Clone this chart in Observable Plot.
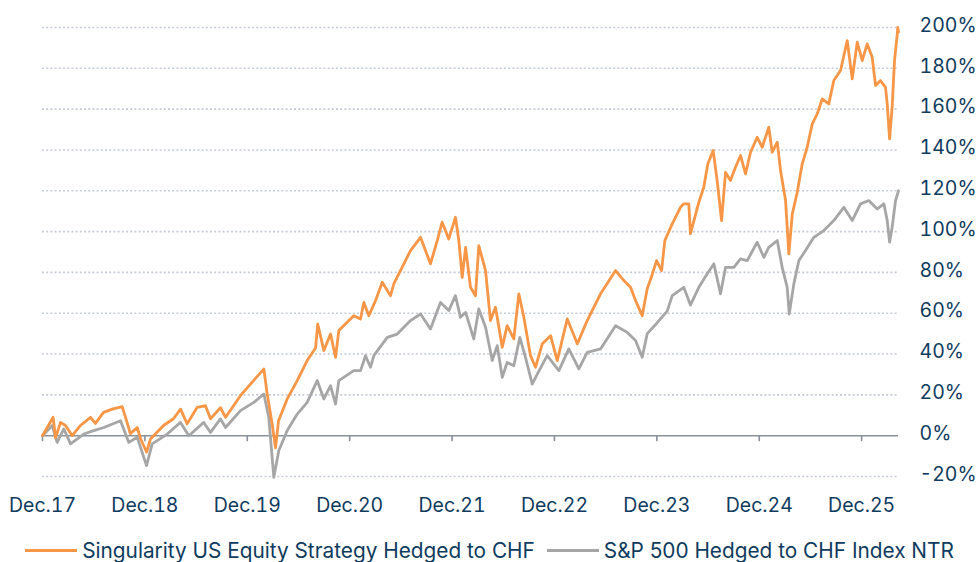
<!DOCTYPE html>
<html>
<head>
<meta charset="utf-8">
<script src="https://cdn.jsdelivr.net/npm/d3@7"></script>
<script src="https://cdn.jsdelivr.net/npm/@observablehq/plot@0.6"></script>
<style>
  html, body { margin: 0; padding: 0; background: #ffffff; }
  #wrap { position: relative; width: 979px; height: 562px; overflow: hidden; font-family: Inter, "Noto Sans", sans-serif; }
  #legend { position: absolute; left: 0; top: 541px; width: 979px; display: flex; justify-content: center; align-items: center; font-size: 20.8px; line-height: 20px; color: #0f3b5e; white-space: nowrap; }
  .item { display: flex; align-items: center; margin: 0 6px; }
  .sw { display: inline-block; width: 52px; height: 0; border-top: 3px solid; margin-right: 5px; position: relative; top: -1px; }
</style>
</head>
<body>
<div id="wrap">
  <div id="chart"></div>
  <div id="legend"></div>
</div>
<script>
// Series names
const seriesNames = ["Singularity US Equity Strategy Hedged to CHF", "S&P 500 Hedged to CHF Index NTR"];
const seriesColors = ["#f79646", "#a6a6a6"];

// Decimal-year positions (2018.0 = end of Dec 2017) and cumulative performance (%)
const stratT = [2018.000,2018.104,2018.127,2018.176,2018.225,2018.290,2018.371,2018.469,2018.517,2018.596,2018.681,2018.778,2018.811,2018.858,2018.925,2018.958,2019.016,2019.055,2019.182,2019.279,2019.348,2019.413,2019.511,2019.592,2019.641,2019.738,2019.788,2019.933,2020.061,2020.162,2020.194,2020.243,2020.276,2020.305,2020.390,2020.488,2020.585,2020.667,2020.688,2020.748,2020.813,2020.862,2020.894,2021.040,2021.106,2021.138,2021.187,2021.253,2021.318,2021.399,2021.431,2021.529,2021.594,2021.692,2021.789,2021.855,2021.903,2021.968,2022.033,2022.066,2022.099,2022.132,2022.180,2022.229,2022.261,2022.327,2022.375,2022.424,2022.490,2022.538,2022.603,2022.652,2022.701,2022.766,2022.815,2022.881,2022.962,2023.027,2023.125,2023.223,2023.320,2023.450,2023.597,2023.678,2023.743,2023.792,2023.857,2023.906,2023.955,2023.997,2024.046,2024.078,2024.150,2024.231,2024.263,2024.312,2024.328,2024.410,2024.458,2024.498,2024.550,2024.589,2024.632,2024.671,2024.719,2024.768,2024.817,2024.866,2024.915,2024.980,2025.029,2025.093,2025.127,2025.176,2025.208,2025.257,2025.289,2025.323,2025.371,2025.420,2025.468,2025.518,2025.566,2025.615,2025.679,2025.728,2025.794,2025.859,2025.908,2025.957,2026.006,2026.054,2026.103,2026.136,2026.184,2026.233,2026.250,2026.273,2026.298,2026.321,2026.348,2026.353,2026.360];
const stratV = [0,9,-1,6.5,5,0,5,9,6,11.4,13,14.2,9,1,4,-1.5,-8,-1.6,5,8.3,13,5.8,13.9,14.7,8.3,13.7,9,19.6,27,32.7,20.6,5.7,-6,7.3,18,27,36.8,43,54.7,41.7,49.8,38.4,51.5,58.8,57.2,65.3,58.8,66.2,75.2,68.6,74.4,84.2,90.7,97.2,84.2,95.6,104.6,96.4,107,95.6,77.6,92.3,72.7,68.6,93.1,80.9,56.4,62.9,43.3,53.9,47.4,69.5,58,39.2,33.5,45,49,36.8,57.2,45,56.4,69.5,80.9,76,72.7,66.2,58.8,72,79,85.8,80.9,95.6,103.8,111.9,113.6,113.6,98.9,114.4,121.7,133.2,139.7,125,105.4,129,125,131.5,137.3,128.3,138.9,146.2,141.3,151.1,138.9,143.8,129.9,115.2,89.1,108.7,119.3,133.2,141.3,152.8,157.7,165,162.6,174,178.9,193.6,174.8,192.8,183.8,192,185.4,171.6,174,170.7,162.6,145.4,161,183.8,196.9,200,197.7];

const indexT = [2018.000,2018.095,2018.143,2018.208,2018.274,2018.403,2018.501,2018.599,2018.762,2018.843,2018.925,2019.016,2019.071,2019.218,2019.348,2019.429,2019.575,2019.641,2019.738,2019.788,2019.933,2020.064,2020.162,2020.210,2020.259,2020.308,2020.390,2020.488,2020.585,2020.683,2020.748,2020.813,2020.862,2020.894,2021.040,2021.106,2021.155,2021.203,2021.236,2021.367,2021.464,2021.594,2021.692,2021.789,2021.887,2021.968,2022.033,2022.082,2022.132,2022.212,2022.261,2022.327,2022.392,2022.441,2022.490,2022.538,2022.603,2022.662,2022.717,2022.783,2022.832,2022.929,2023.043,2023.140,2023.238,2023.320,2023.450,2023.597,2023.711,2023.792,2023.857,2023.906,2023.997,2024.101,2024.150,2024.263,2024.328,2024.410,2024.492,2024.557,2024.622,2024.671,2024.752,2024.817,2024.883,2024.980,2025.045,2025.093,2025.176,2025.224,2025.273,2025.293,2025.338,2025.387,2025.452,2025.533,2025.631,2025.728,2025.826,2025.908,2025.989,2026.070,2026.152,2026.217,2026.250,2026.273,2026.298,2026.331,2026.360];
const indexV = [0,5,-3.3,3.3,-4,0.8,2.5,4,7.3,-3.3,-0.8,-14.7,-4,0.8,6.5,0,6.5,1.6,8.2,4,12.3,16.3,20.4,9,-20.4,-7.3,2.5,10.6,16.3,27,18,24.5,15.5,27,31.9,31.9,39.2,33.5,39.2,48.2,49.8,56.4,59.6,52.3,65.3,61.3,68.6,58,60.4,47.4,62.1,53.1,36.8,44.1,28.6,35.9,34.3,48.2,38.4,25.3,30.2,39.2,31.9,42.5,32.7,40.8,42.5,53.9,50.6,46.6,38.4,50,55,61,68.6,72.7,64,72.7,79.3,84.2,69.5,82.5,82.5,86.6,85.8,94.8,87.4,92.3,95.6,82.5,72.7,59.6,74.4,85.8,90.7,97.2,100.5,105.4,111.9,105.4,113.6,115.2,111.1,113.6,105.4,94.8,102.1,115.2,120];

// Axis ticks
const yTicks = [-20,0,20,40,60,80,100,120,140,160,180,200];
const xTickYears = [2018,2019,2020,2021,2022,2023,2024,2025,2026];
const xTickLabels = ["Dec.17","Dec.18","Dec.19","Dec.20","Dec.21","Dec.22","Dec.23","Dec.24","Dec.25"];

const toDate = t => new Date(Date.UTC(2017, 11, 31) + (t - 2018) * 365.25 * 864e5);
const rows = [
  ...indexT.map((t, i) => ({date: toDate(t), value: indexV[i], series: seriesNames[1]})),
  ...stratT.map((t, i) => ({date: toDate(t), value: stratV[i], series: seriesNames[0]}))
];
const xTicks = xTickYears.map(toDate);
const labelOf = new Map(xTicks.map((d, i) => [+d, xTickLabels[i]]));

const chart = Plot.plot({
  width: 979,
  height: 530,
  marginLeft: 42,
  marginRight: 81,
  marginTop: 27,
  marginBottom: 54,
  style: {fontFamily: "Inter, 'Noto Sans', sans-serif", color: "#0f3b5e", background: "#ffffff"},
  x: {type: "utc", domain: [toDate(stratT[0]), toDate(stratT[stratT.length - 1])]},
  y: {domain: [-20, 200]},
  marks: [
    Plot.ruleY(yTicks.filter(d => d !== 0), {stroke: "#c5ccd5", strokeWidth: 1.6, strokeDasharray: "2,2.2"}),
    Plot.ruleY([0], {stroke: "#8a919b", strokeWidth: 1.6}),
    Plot.ruleX(xTicks, {y1: 0, y2: 0, insetBottom: -6, stroke: "#8a919b", strokeWidth: 1.6}),
    Plot.axisY({anchor: "right", ticks: yTicks, tickSize: 0, tickPadding: 21, fontSize: 19.5, label: null, tickFormat: d => String(d).replace("−", "-") + "%", dy: -2}),
    Plot.axisX({anchor: "bottom", ticks: xTicks, tickSize: 0, tickPadding: 22, fontSize: 19.5, label: null, tickFormat: d => labelOf.get(+d)}),
    Plot.line(rows.filter(d => d.series === seriesNames[1]), {x: "date", y: "value", stroke: seriesColors[1], strokeWidth: 2.8, strokeLinejoin: "round"}),
    Plot.line(rows.filter(d => d.series === seriesNames[0]), {x: "date", y: "value", stroke: seriesColors[0], strokeWidth: 2.8, strokeLinejoin: "round"})
  ]
});
document.getElementById("chart").appendChild(chart);

const legend = document.getElementById("legend");
seriesNames.forEach((name, i) => {
  const item = document.createElement("div");
  item.className = "item";
  const sw = document.createElement("span");
  sw.className = "sw";
  sw.style.borderTopColor = seriesColors[i];
  const lab = document.createElement("span");
  lab.textContent = name;
  item.appendChild(sw);
  item.appendChild(lab);
  legend.appendChild(item);
});
</script>
</body>
</html>
